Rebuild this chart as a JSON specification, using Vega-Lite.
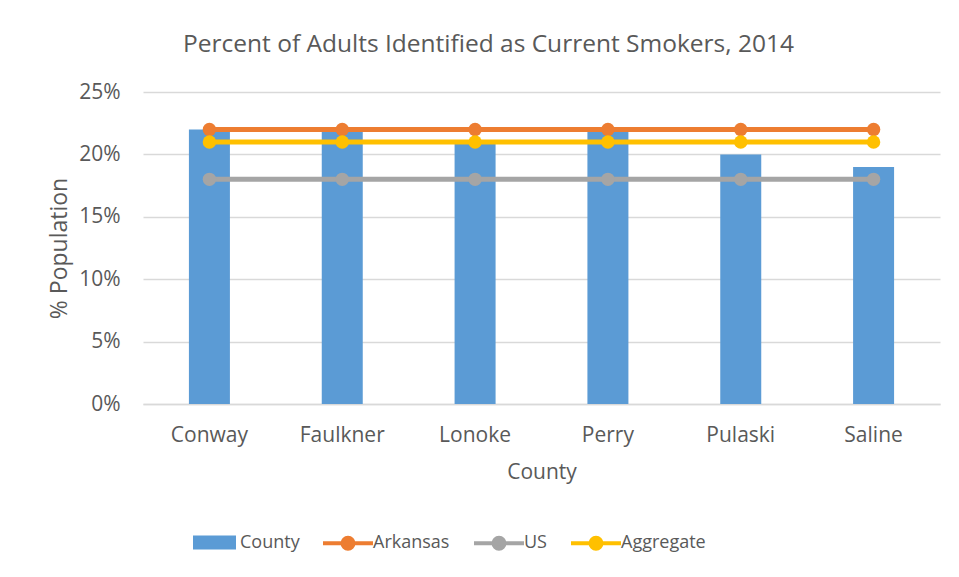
{
  "$schema": "https://vega.github.io/schema/vega-lite/v6.json",
  "autosize": {"type": "none"},
  "width": 797,
  "height": 312,
  "padding": {"left": 143, "top": 92, "right": 19, "bottom": 173},
  "background": "white",
  "title": {
    "text": "Percent of Adults Identified as Current Smokers, 2014",
    "font": "Open Sans",
    "fontSize": 24.5,
    "fontWeight": "normal",
    "color": "#595959",
    "anchor": "middle",
    "dx": -53,
    "offset": 24
  },
  "data": {
    "values": [
      {"county": "Conway", "series": "County", "value": 0.22},
      {"county": "Faulkner", "series": "County", "value": 0.22},
      {"county": "Lonoke", "series": "County", "value": 0.21},
      {"county": "Perry", "series": "County", "value": 0.22},
      {"county": "Pulaski", "series": "County", "value": 0.20},
      {"county": "Saline", "series": "County", "value": 0.19},
      {"county": "Conway", "series": "Arkansas", "value": 0.22},
      {"county": "Faulkner", "series": "Arkansas", "value": 0.22},
      {"county": "Lonoke", "series": "Arkansas", "value": 0.22},
      {"county": "Perry", "series": "Arkansas", "value": 0.22},
      {"county": "Pulaski", "series": "Arkansas", "value": 0.22},
      {"county": "Saline", "series": "Arkansas", "value": 0.22},
      {"county": "Conway", "series": "US", "value": 0.18},
      {"county": "Faulkner", "series": "US", "value": 0.18},
      {"county": "Lonoke", "series": "US", "value": 0.18},
      {"county": "Perry", "series": "US", "value": 0.18},
      {"county": "Pulaski", "series": "US", "value": 0.18},
      {"county": "Saline", "series": "US", "value": 0.18},
      {"county": "Conway", "series": "Aggregate", "value": 0.21},
      {"county": "Faulkner", "series": "Aggregate", "value": 0.21},
      {"county": "Lonoke", "series": "Aggregate", "value": 0.21},
      {"county": "Perry", "series": "Aggregate", "value": 0.21},
      {"county": "Pulaski", "series": "Aggregate", "value": 0.21},
      {"county": "Saline", "series": "Aggregate", "value": 0.21}
    ]
  },
  "encoding": {
    "x": {
      "field": "county",
      "type": "nominal",
      "sort": ["Conway", "Faulkner", "Lonoke", "Perry", "Pulaski", "Saline"],
      "scale": {"paddingInner": 0, "paddingOuter": 0},
      "axis": {
        "title": "County",
        "labelAngle": 0,
        "ticks": false,
        "tickSize": 0,
        "grid": false,
        "domain": true,
        "domainColor": "#D9D9D9",
        "domainWidth": 1.5,
        "labelPadding": 20,
        "titlePadding": 16
      }
    },
    "y": {
      "field": "value",
      "type": "quantitative",
      "scale": {"domain": [0, 0.25], "nice": false},
      "axis": {
        "title": "% Population",
        "format": ".0%",
        "values": [0, 0.05, 0.1, 0.15, 0.2, 0.25],
        "ticks": false,
        "tickSize": 0,
        "domain": false,
        "grid": true,
        "gridColor": "#D9D9D9",
        "gridWidth": 1.5,
        "labelPadding": 23,
        "titlePadding": 7,
        "titleFontSize": 23
      }
    }
  },
  "layer": [
    {
      "transform": [{"filter": "datum.series === 'County'"}],
      "mark": {"type": "bar", "size": 41},
      "encoding": {
        "fill": {
          "field": "series",
          "type": "nominal",
          "scale": {"domain": ["County"], "range": ["#5B9BD5"]},
          "legend": {
            "title": null,
            "orient": "none",
            "legendX": 50,
            "legendY": 429,
            "labelOffset": 4,
            "symbolType": "M-1,-0.33L1,-0.33L1,0.33L-1,0.33Z",
            "symbolSize": 1849,
            "symbolStrokeWidth": 0
          }
        }
      }
    },
    {
      "transform": [{"filter": "datum.series !== 'County'"}],
      "mark": {"type": "line", "strokeWidth": 5},
      "encoding": {
        "color": {
          "field": "series",
          "type": "nominal",
          "scale": {"domain": ["Arkansas", "US", "Aggregate"], "range": ["#ED7D31", "#A5A5A5", "#FFC000"]},
          "legend": {
            "title": null,
            "orient": "none",
            "direction": "horizontal",
            "legendX": 178,
            "legendY": 424,
            "columnPadding": 16,
            "labelOffset": -2,
            "symbolType": "M-1,0L1,0M-0.22,0A0.22,0.22,0,1,1,0.22,0A0.22,0.22,0,1,1,-0.22,0Z",
            "symbolSize": 2500,
            "encode": {
              "symbols": {
                "update": {
                  "fill": {"scale": "color", "field": "value"},
                  "stroke": {"scale": "color", "field": "value"},
                  "strokeWidth": {"value": 4}
                }
              }
            }
          }
        }
      }
    },
    {
      "transform": [{"filter": "datum.series !== 'County'"}],
      "mark": {"type": "point", "filled": true, "size": 180, "opacity": 1},
      "encoding": {
        "color": {"field": "series", "type": "nominal", "legend": null}
      }
    }
  ],
  "config": {
    "font": "Open Sans",
    "view": {"stroke": null},
    "axis": {
      "labelFont": "Open Sans",
      "labelFontSize": 21,
      "labelColor": "#595959",
      "titleFont": "Open Sans",
      "titleFontSize": 21,
      "titleFontWeight": "normal",
      "titleColor": "#595959"
    },
    "legend": {
      "labelFont": "Open Sans",
      "labelFontSize": 18,
      "labelColor": "#595959",
      "padding": 0
    }
  }
}
